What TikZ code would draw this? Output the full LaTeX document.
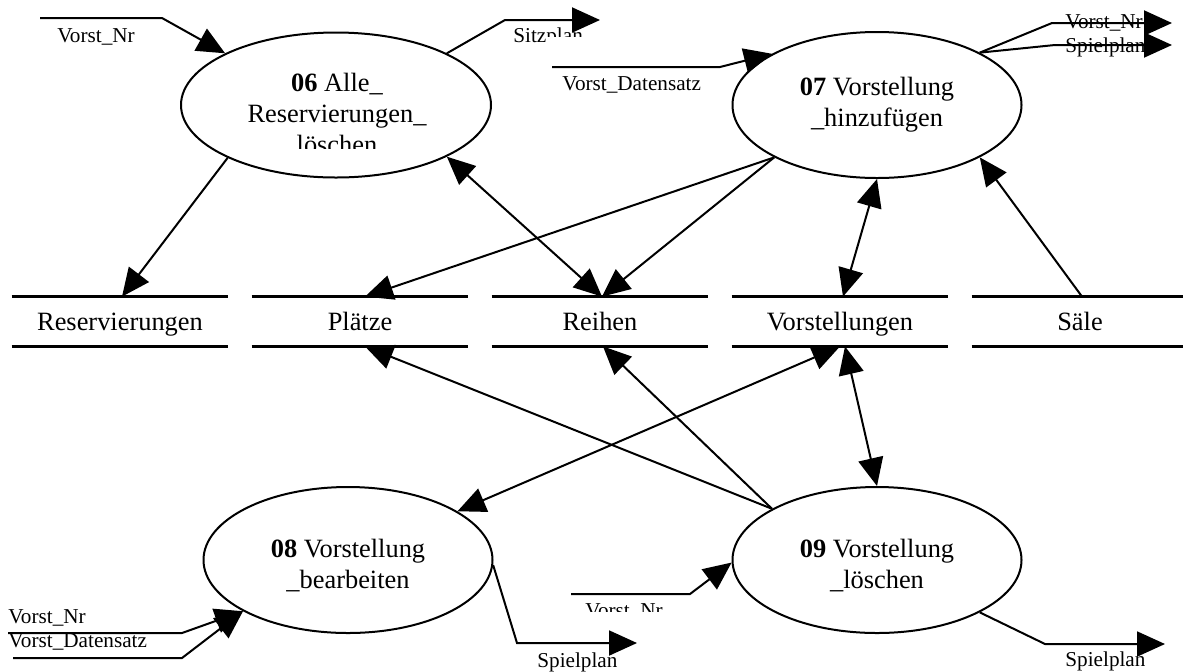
\documentclass[tikz,border=0pt]{standalone}
\usepackage{fontspec}
\setmainfont{Liberation Serif}
\usetikzlibrary{arrows.meta,shapes.geometric,calc}

\begin{document}
\begin{tikzpicture}[x=0.5pt,y=-0.5pt,
  flow/.style={line width=1pt, -{Triangle[length=14pt,width=12.5pt]}},
  biflow/.style={line width=1pt, {Triangle[length=14pt,width=12.5pt]}-{Triangle[length=14pt,width=12.5pt]}},
  proc/.style={ellipse, draw, line width=1pt, inner sep=0pt},
  proctext/.style={align=center, inner sep=0pt, font=\fontsize{13.2}{15.5}\selectfont},
  store/.style={minimum width=108pt, minimum height=24.5pt, inner sep=0pt, text height=0.9em, text depth=0pt, font=\fontsize{13.2}{15.5}\selectfont},
  lbl/.style={anchor=base west, inner sep=0pt, font=\fontsize{10.6}{12}\selectfont},
]
\useasboundingbox (0,0) rectangle (1183,671);

% processes
\node[proc, minimum width=155pt, minimum height=72.5pt] (e06) at (336,105) {};
\node[proc, minimum width=144.5pt, minimum height=73pt] (e07) at (877,105) {};
\node[proc, minimum width=144.5pt, minimum height=73pt] (e08) at (348,560) {};
\node[proc, minimum width=144.5pt, minimum height=73pt] (e09) at (877,560) {};

\begin{scope}
  \clip (180,60) rectangle (495,148);
  \node[proctext] (t06) at (337,113) {\textbf{06} Alle\_\\Reservierungen\_\\löschen};
\end{scope}
\node[proctext] (t07) at (877,105) {\textbf{07} Vorstellung\\\_hinzufügen};
\node[proctext] (t08) at (348,566) {\textbf{08} Vorstellung\\\_bearbeiten};
\node[proctext] (t09) at (877,566) {\textbf{09} Vorstellung\\\_löschen};

% data stores
\foreach \n/\x/\t in {s1/120/Reservierungen, s2/360/Plätze, s3/600/Reihen, s4/840/Vorstellungen, s5/1080/Säle} {
  \node[store] (\n) at (\x,321.5) {\t};
  \draw[line width=1.2pt] (\n.north west) -- (\n.north east) (\n.south west) -- (\n.south east);
}
\coordinate (s1t) at ($(s1.north)+(2,0)$);
\coordinate (s2t) at ($(s2.north)+(5,0)$);
\coordinate (s2b) at ($(s2.south)+(5,0)$);
\coordinate (s3t) at ($(s3.north)+(2,0)$);
\coordinate (s3b) at ($(s3.south)+(3,0)$);
\coordinate (s4t) at ($(s4.north)+(3,0)$);
\coordinate (s4b1) at ($(s4.south)+(0,0)$);
\coordinate (s4b2) at ($(s4.south)+(5,0)$);
\coordinate (s5t) at ($(s5.north)+(2,0)$);

% flow labels
\node[lbl] (l1) at (57,42) {Vorst\_Nr};
\begin{scope}
  \clip (505,5) rectangle (545,50) (545,5) rectangle (600,36);
  \node[lbl] (l2) at (513,42) {Sitzplan};
\end{scope}
\node[lbl] (l3) at (562,90) {Vorst\_Datensatz};
\node[lbl] (l4) at (1065,28) {Vorst\_Nr};
\node[lbl] (l5) at (1065,52) {Spielplan};
\node[lbl] (l6) at (8,623) {Vorst\_Nr};
\node[lbl] (l7) at (8,647) {Vorst\_Datensatz};
\node[lbl] (l8) at (537,667) {Spielplan};
\begin{scope}
  \clip (570,590) rectangle (700,611);
  \node[lbl] (l9) at (585,617) {Vorst\_Nr};
\end{scope}
\node[lbl] (l10) at (1065,666) {Spielplan};

% flows of 06
\coordinate (i06a) at (40,18);
\coordinate (i06b) at (162,18);
\draw[flow] (i06a) -- (i06b) -- (e06.155);
\coordinate (o06a) at (505,20);
\coordinate (o06b) at (600,20);
\draw[flow] (e06.25) -- (o06a) -- (o06b);
\draw[flow] (e06.206) -- (s1t);
\draw[biflow] (e06.335) -- (s3t);

% flows of 07
\coordinate (i07a) at (552,67);
\coordinate (i07b) at (720,67);
\draw[flow] (i07a) -- (i07b) -- (e07.154);
\coordinate (o07a) at (1052,23);
\coordinate (o07b) at (1172,23);
\coordinate (o07c) at (1055,45);
\coordinate (o07d) at (1172,45);
\draw[flow] (e07.27) -- (o07a) -- (o07b);
\draw[flow] (e07.27) -- (o07c) -- (o07d);
\draw[flow] (e07.207) -- (s2t);
\draw[flow] (e07.207) -- (s3t);
\draw[biflow] (e07.270) -- (s4t);
\draw[flow] (s5t) -- (e07.333);

% flows of 08
\coordinate (i08a) at (8,633);
\coordinate (i08b) at (182,633);
\coordinate (i08c) at (13,658);
\coordinate (i08d) at (182,658);
\draw[flow] (i08a) -- (i08b) -- (e08.206);
\draw[flow] (i08c) -- (i08d) -- (e08.206);
\coordinate (o08a) at (517,643);
\coordinate (o08b) at (637,643);
\draw[flow] (e08.358) -- (o08a) -- (o08b);
\draw[biflow] (e08.24) -- (s4b1);

% flows of 09
\coordinate (i09a) at (571,594);
\coordinate (i09b) at (690,594);
\draw[flow] (i09a) -- (i09b) -- (e09.181);
\coordinate (o09a) at (1045,644);
\coordinate (o09b) at (1165,644);
\draw[flow] (e09.333) -- (o09a) -- (o09b);
\draw[flow] (e09.154) -- (s2b);
\draw[flow] (e09.154) -- (s3b);
\draw[biflow] (e09.90) -- (s4b2);
\end{tikzpicture}
\end{document}
